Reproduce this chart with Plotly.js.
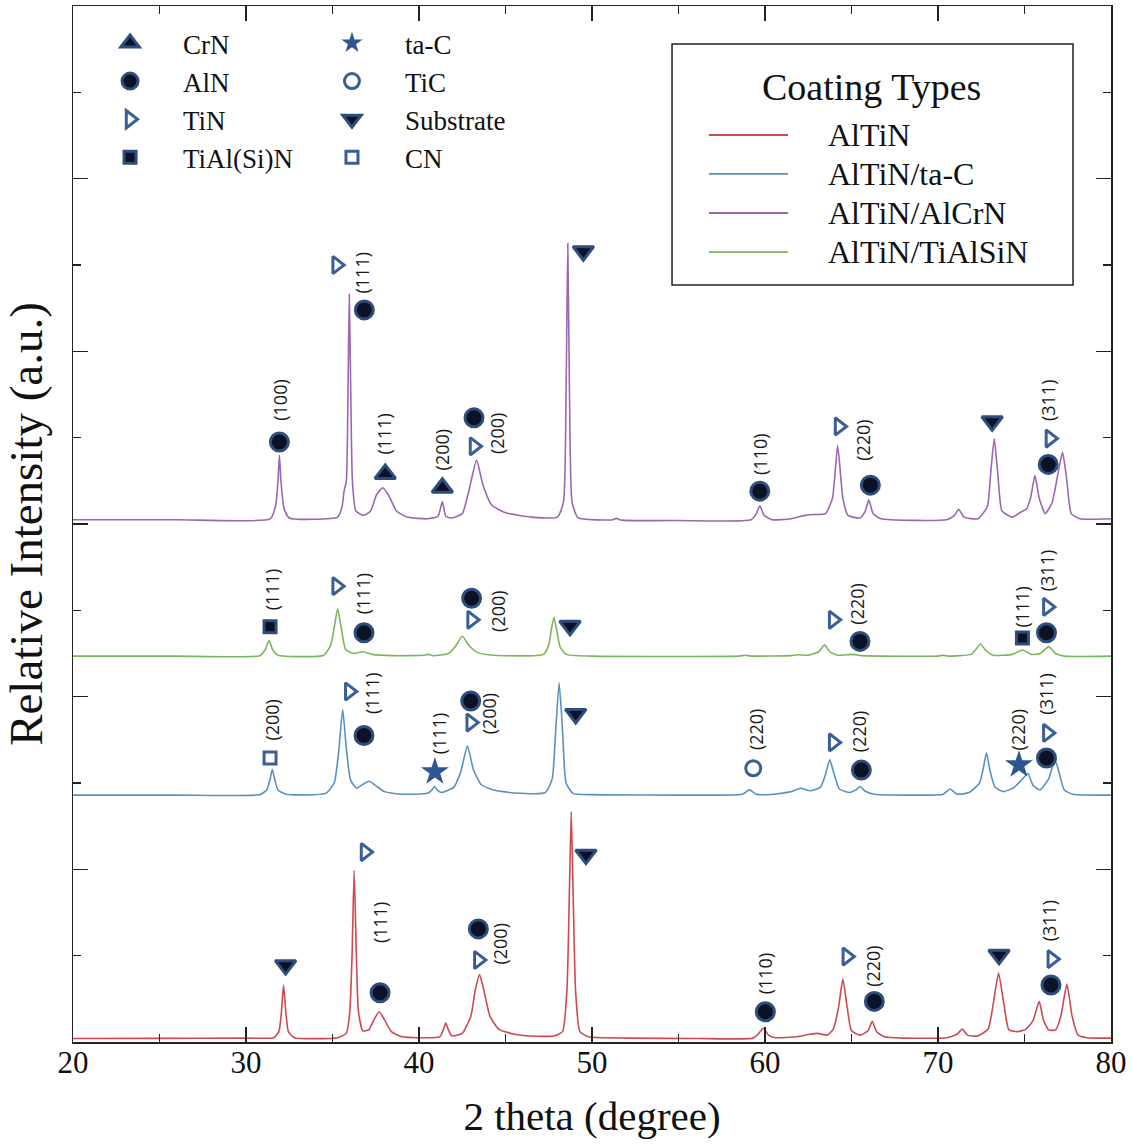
<!DOCTYPE html>
<html><head><meta charset="utf-8">
<script src="https://cdn.plot.ly/plotly-3.0.1.min.js"></script>
<style>html,body{margin:0;padding:0;background:#fff;}#chart{width:1132px;height:1146px;}</style>
</head><body><div id="chart"></div>
<script>
// ---- XRD patterns (2θ in degrees, offset relative intensity) ----
const altinX = [20,25,30,31.6,31.9,32.05,32.17,32.3,32.45,32.8,35.3,35.8,36.0,36.13,36.25,36.38,36.5,36.75,37.1,37.4,37.7,38.0,38.4,39.0,40.0,41.2,41.4,41.55,41.7,41.9,42.5,43.0,43.25,43.5,43.75,44.1,44.6,45.5,46.5,47.8,48.3,48.55,48.7,48.8,48.9,49.05,49.3,49.8,52,56,59.3,59.6,59.9,60.2,60.6,61.8,62.6,63.05,63.6,63.95,64.25,64.5,64.75,65.0,65.5,65.95,66.2,66.45,66.9,68,70.5,71.1,71.4,71.7,72.3,72.9,73.2,73.5,73.8,74.1,74.6,75.1,75.5,75.85,76.1,76.4,76.8,77.1,77.45,77.75,78.1,78.6,80];
const altinY = [0.04,0.042,0.045,0.05,0.12,0.35,0.66,0.35,0.12,0.05,0.05,0.10,0.35,1.0,1.99,1.0,0.35,0.13,0.14,0.26,0.35,0.26,0.12,0.06,0.05,0.06,0.14,0.22,0.14,0.07,0.10,0.30,0.60,0.78,0.60,0.30,0.15,0.09,0.07,0.07,0.12,0.60,1.80,2.67,1.80,0.60,0.12,0.06,0.045,0.04,0.045,0.09,0.16,0.08,0.05,0.06,0.09,0.10,0.08,0.15,0.40,0.73,0.40,0.13,0.08,0.13,0.24,0.12,0.06,0.045,0.05,0.09,0.15,0.08,0.07,0.15,0.45,0.80,0.45,0.14,0.12,0.15,0.25,0.47,0.25,0.14,0.14,0.30,0.67,0.30,0.08,0.05,0.045];

const tacX = [20,26,30.8,31.2,31.4,31.52,31.65,31.85,32.3,34.6,35.1,35.35,35.59,35.8,36.05,36.4,36.8,37.13,37.5,38.0,39.0,40.5,40.75,40.9,41.05,41.3,42.0,42.4,42.8,43.15,43.6,44.3,45.5,47.3,47.7,47.9,48.1,48.3,48.5,48.9,50,56,58.7,59.1,59.5,60.5,61.5,62.05,62.6,63.2,63.5,63.74,64.0,64.3,64.9,65.25,65.5,65.75,66.3,68,70.3,70.7,71.1,71.8,72.4,72.6,72.8,73.0,73.3,73.8,74.4,74.9,75.2,75.5,75.9,76.4,76.6,76.8,77.0,77.3,77.8,80];
const tacY = [2.86,2.86,2.865,2.92,3.05,3.16,3.05,2.92,2.87,2.88,3.0,3.35,3.85,3.4,3.03,2.94,2.99,3.02,2.97,2.9,2.87,2.88,2.92,2.96,2.92,2.89,2.95,3.12,3.43,3.15,2.98,2.92,2.885,2.89,3.05,3.6,4.16,3.6,3.0,2.88,2.865,2.86,2.87,2.92,2.87,2.87,2.9,2.94,2.91,2.95,3.1,3.27,3.1,2.93,2.89,2.92,2.96,2.91,2.87,2.86,2.87,2.93,2.87,2.89,3.0,3.15,3.35,3.15,2.95,2.9,2.95,3.05,3.11,2.97,2.92,3.05,3.18,3.25,3.12,2.92,2.87,2.86];

const tialsinX = [20,26,30.8,31.1,31.33,31.55,31.85,34.5,34.9,35.1,35.3,35.5,35.75,36.2,36.76,37.3,38.5,40.3,40.54,40.8,41.7,42.1,42.5,42.9,43.4,44.3,47.2,47.5,47.65,47.8,47.95,48.15,48.5,50,58.5,58.85,59.2,61.5,61.85,62.5,63.1,63.44,63.75,64.2,65.1,65.6,70.0,70.3,70.6,71.9,72.2,72.45,72.75,73.2,74.3,74.9,75.4,75.9,76.4,76.8,77.3,80];
const tialsinY = [4.47,4.47,4.475,4.54,4.65,4.54,4.48,4.48,4.6,4.8,5.02,4.8,4.55,4.5,4.52,4.49,4.475,4.48,4.49,4.475,4.5,4.58,4.70,4.59,4.51,4.48,4.49,4.6,4.78,4.92,4.78,4.58,4.49,4.47,4.47,4.48,4.47,4.475,4.485,4.48,4.52,4.60,4.52,4.48,4.49,4.475,4.47,4.48,4.47,4.49,4.55,4.61,4.54,4.48,4.49,4.54,4.49,4.5,4.58,4.5,4.47,4.47];

const alcrnX = [20,26,31.4,31.7,31.85,31.93,32.02,32.2,32.5,35.3,35.55,35.67,35.8,35.9,35.97,36.05,36.15,36.35,36.8,37.2,37.55,37.9,38.25,38.7,39.3,40.5,41.1,41.35,41.55,41.9,42.5,42.9,43.33,43.7,44.2,45.0,46.5,48.0,48.35,48.5,48.6,48.7,48.85,49.2,51.2,51.4,51.7,55,59.2,59.5,59.7,59.95,60.4,61.5,62.3,62.8,63.5,63.9,64.2,64.5,64.8,65.5,65.8,66.0,66.25,66.7,70.5,70.95,71.2,71.5,72.3,72.85,73.05,73.25,73.45,73.7,74.3,74.8,75.1,75.35,75.6,75.85,76.2,76.6,76.95,77.2,77.45,77.7,78.2,80];
const alcrnY = [6.05,6.05,6.06,6.2,6.5,6.80,6.5,6.18,6.07,6.08,6.2,6.38,6.5,7.6,8.66,7.6,6.5,6.15,6.1,6.15,6.34,6.42,6.33,6.15,6.08,6.06,6.09,6.26,6.09,6.07,6.12,6.4,6.74,6.45,6.22,6.13,6.08,6.08,6.25,7.5,9.25,7.5,6.25,6.07,6.05,6.065,6.045,6.04,6.05,6.12,6.21,6.1,6.05,6.06,6.1,6.11,6.12,6.3,6.91,6.3,6.1,6.07,6.15,6.28,6.12,6.06,6.05,6.1,6.17,6.08,6.06,6.2,6.6,6.99,6.6,6.15,6.08,6.14,6.17,6.3,6.56,6.3,6.12,6.25,6.6,6.83,6.5,6.12,6.06,6.06];

const coatingNames = ["AlTiN", "AlTiN/ta-C", "AlTiN/AlCrN", "AlTiN/TiAlSiN"];
const coatingColors = ["#cc4a52", "#5b91c2", "#9c66b0", "#7cb65e"];

// ---- phase markers ----
const crnX = [38.05, 41.35];
const crnY = [6.58, 6.42];
const alnX = [31.93, 36.84, 43.18, 59.70, 66.09, 76.37, 36.82, 43.04, 65.49, 76.27, 36.82, 42.99, 65.57, 76.27, 37.75, 43.43, 60.02, 66.32, 76.53];
const alnY = [6.95, 8.48, 7.23, 6.38, 6.45, 6.69, 4.74, 5.14, 4.64, 4.74, 3.55, 3.95, 3.15, 3.29, 0.57, 1.31, 0.35, 0.47, 0.66];
const tinX = [35.24, 43.18, 64.28, 76.47, 35.24, 43.04, 63.94, 76.32, 35.97, 42.99, 63.94, 76.32, 36.88, 43.43, 64.73, 76.58];
const tinY = [9.00, 6.90, 7.13, 6.99, 5.28, 4.89, 4.89, 5.04, 4.06, 3.70, 3.47, 3.58, 2.20, 0.95, 0.99, 0.96];
const tialsinPhaseX = [31.39, 74.88];
const tialsinPhaseY = [4.81, 4.68];
const tacPhaseX = [40.92, 74.68];
const tacPhaseY = [3.13, 3.21];
const ticX = [59.32];
const ticY = [3.17];
const substrateX = [49.50, 73.13, 48.73, 49.06, 32.29, 49.65, 73.53];
const substrateY = [9.16, 7.19, 4.82, 3.80, 0.89, 2.17, 1.01];
const cnX = [31.39];
const cnY = [3.29];

// ---- Miller index labels ----
const labelText = ["(100)","(111)","(111)","(200)","(200)","(110)","(220)","(311)",
                   "(111)","(111)","(200)","(220)","(111)","(311)",
                   "(200)","(111)","(111)","(200)","(220)","(220)","(220)","(311)",
                   "(111)","(200)","(110)","(220)","(311)"];
const labelX = [31.97,36.69,37.99,41.31,44.55,59.70,65.69,76.32,
                31.48,36.78,44.55,65.33,74.84,76.27,
                31.48,37.27,41.17,44.06,59.45,65.43,74.68,76.27,
                37.75,44.68,60.02,66.23,76.42];
const labelY = [7.44,8.91,7.05,6.86,7.05,6.81,6.98,7.44,
                5.24,5.20,4.99,5.08,5.04,5.47,
                3.73,4.04,3.58,3.81,3.63,3.60,3.62,4.04,
                1.39,1.14,0.80,0.88,1.41];

const SERIF = "Liberation Serif, Times New Roman, serif";
const DARK = "#0b1226", RIM = "#2f4d7c", OPEN = "#3a5f96";

function lineTrace(x, y, i) {
  return {type: "scatter", mode: "lines", x: x, y: y, name: coatingNames[i],
          line: {color: coatingColors[i], width: 1.6, shape: "spline", smoothing: 0.5},
          showlegend: false, hoverinfo: "x+y+name"};
}
function filled(x, y, name, symbol, size, legend) {
  return {type: "scatter", mode: "markers", x: x, y: y, name: name, legend: legend,
          marker: {symbol: symbol, size: size, color: DARK, line: {color: RIM, width: 3}}};
}
function open(x, y, name, symbol, size, legend) {
  return {type: "scatter", mode: "markers", x: x, y: y, name: name, legend: legend,
          marker: {symbol: symbol, size: size, color: OPEN, line: {color: OPEN, width: 3}}};
}

const traces = [
  lineTrace(altinX, altinY, 0),
  lineTrace(tacX, tacY, 1),
  lineTrace(alcrnX, alcrnY, 2),
  lineTrace(tialsinX, tialsinY, 3),
  filled(crnX, crnY, "CrN", "triangle-up", 18, "legend2"),
  filled(alnX, alnY, "AlN", "circle", 18, "legend2"),
  open(tinX, tinY, "TiN", "triangle-right-open", 15, "legend2"),
  filled(tialsinPhaseX, tialsinPhaseY, "TiAl(Si)N", "square", 12, "legend2"),
  {type: "scatter", mode: "markers", x: tacPhaseX, y: tacPhaseY, name: "ta-C", legend: "legend3",
   marker: {symbol: "star", size: 21, color: "#2f5592", line: {color: "#2f5592", width: 0}}},
  open(ticX, ticY, "TiC", "circle-open", 15, "legend3"),
  filled(substrateX, substrateY, "Substrate", "triangle-down", 18, "legend3"),
  open(cnX, cnY, "CN", "square-open", 12, "legend3")
];

const annotations = labelText.map((t, i) => ({
  x: labelX[i], y: labelY[i], xref: "x", yref: "y", text: t, showarrow: false,
  textangle: -90, xanchor: "center", yanchor: "middle",
  font: {family: "Open Sans, DejaVu Sans, sans-serif", size: 18, color: "#1a1a1a"}
}));

// manual "Coating Types" legend box
const boxL = 0.5771, boxR = 0.9634, boxB = 0.7307, boxT = 0.9633;
const rowY = [0.8755, 0.8379, 0.8002, 0.7625];
const shapes = [{type: "rect", xref: "paper", yref: "paper", x0: boxL, x1: boxR, y0: boxB, y1: boxT,
                 line: {color: "#222", width: 1.5}, fillcolor: "rgba(255,255,255,0)"}];
coatingNames.forEach((n, i) => {
  shapes.push({type: "line", xref: "paper", yref: "paper", x0: 0.6127, x1: 0.6888, y0: rowY[i], y1: rowY[i],
               line: {color: coatingColors[i], width: 1.8}});
  annotations.push({xref: "paper", yref: "paper", x: 0.7254, y: rowY[i], xanchor: "left", yanchor: "middle",
                    text: n, showarrow: false, font: {family: SERIF, size: 32, color: "#111"}});
});
annotations.push({xref: "paper", yref: "paper", x: 0.7697, y: 0.9221, xanchor: "center", yanchor: "middle",
                  text: "Coating Types", showarrow: false, font: {family: SERIF, size: 38, color: "#111"}});

const legendCommon = {orientation: "v", bgcolor: "rgba(0,0,0,0)", borderwidth: 0, itemwidth: 96,
                      font: {family: SERIF, size: 27, color: "#111"}, yanchor: "top", xanchor: "left",
                      itemclick: false, itemdoubleclick: false};

const layout = {
  width: 1132, height: 1146,
  margin: {l: 73, r: 21, t: 6, b: 104},
  paper_bgcolor: "#fff", plot_bgcolor: "#fff",
  showlegend: true,
  legend2: Object.assign({}, legendCommon, {x: 0.0039, y: 0.9875}),
  legend3: Object.assign({}, legendCommon, {x: 0.2177, y: 0.9875}),
  xaxis: {
    range: [20, 80], tick0: 20, dtick: 10, ticks: "inside", ticklen: 15, tickwidth: 1.3, tickcolor: "#222",
    showline: true, linecolor: "#222", linewidth: 1.5, mirror: "ticks", showgrid: false, zeroline: false,
    tickfont: {family: SERIF, size: 31, color: "#111"}, ticklabelstandoff: -8,
    minor: {tick0: 20, dtick: 5, ticks: "inside", ticklen: 8, tickwidth: 1.3, tickcolor: "#222", showgrid: false},
    title: {text: "2 theta (degree)", font: {family: SERIF, size: 41, color: "#111"}, standoff: 22}
  },
  yaxis: {
    range: [0, 12], tick0: 0, dtick: 2, ticks: "inside", ticklen: 15, tickwidth: 1.3, tickcolor: "#222",
    showticklabels: false, showline: true, linecolor: "#222", linewidth: 1.5, mirror: "ticks",
    showgrid: false, zeroline: false,
    minor: {tick0: 0, dtick: 1, ticks: "inside", ticklen: 8, tickwidth: 1.3, tickcolor: "#222", showgrid: false},
    title: {text: "Relative Intensity (a.u.)", font: {family: SERIF, size: 47, color: "#111"}, standoff: 16}
  },
  annotations: annotations,
  shapes: shapes
};

Plotly.newPlot("chart", traces, layout, {displayModeBar: false, staticPlot: true});
</script>
</body></html>
